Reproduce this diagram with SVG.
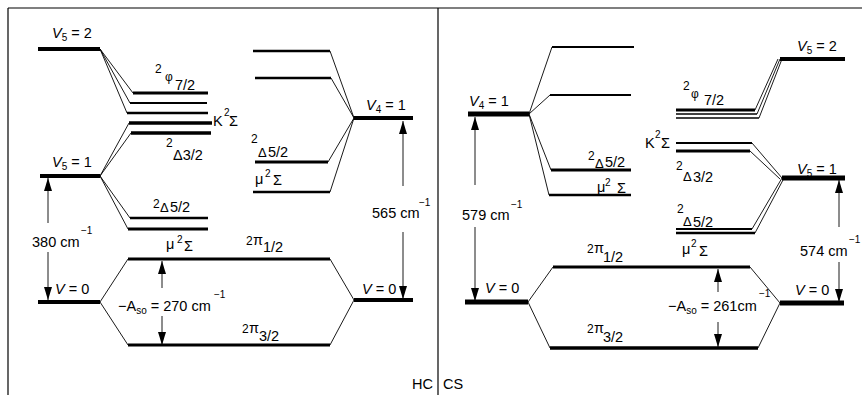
<svg xmlns="http://www.w3.org/2000/svg" width="862" height="395" viewBox="0 0 862 395">
<style>
text{font-family:"Liberation Sans",Arial,sans-serif;font-size:14.5px;fill:#000}
.sm{font-size:10px}
.md{font-size:12px}
.dl{font-size:13px}
.i{font-style:italic}
.lv{stroke:#000;fill:none;stroke-linecap:butt}
.c{stroke:#000;stroke-width:0.9;fill:none}
.a{stroke:#000;stroke-width:0.9;fill:none;marker-end:url(#ah)}
.f{stroke:#000;stroke-width:1.2;fill:none}
</style>
<defs>
<marker id="ah" markerUnits="userSpaceOnUse" markerWidth="13" markerHeight="8" refX="13" refY="4" orient="auto">
<path d="M0,0 L13,4 L0,8 z" fill="#000"/>
</marker>
</defs>
<g id="frame">
<line class="f" x1="8" y1="8" x2="862" y2="8"/>
<line class="f" x1="8" y1="8" x2="8" y2="395"/>
<line class="f" x1="438" y1="8" x2="438" y2="395"/>
<text x="412" y="389">HC</text>
<text x="443" y="389">CS</text>
</g>
<g id="connectors">
<path class="c" d="M100,49L133,93M100,49L130,103M100,49L127,113"/>
<path class="c" d="M100,176L129,123M100,176L131,133M100,176L130,218M100,176L128,229"/>
<path class="c" d="M100,302L128,259M100,302L128,345M330,259L354,300M330,345L354,300"/>
<path class="c" d="M354,118L330,51M354,118L331,78M354,118L328,162M354,118L330,192"/>
<path class="c" d="M529,114L552,47M529,114L550,95M529,114L551,170M529,114L549,195"/>
<path class="c" d="M528,302L553,267M528,302L550,348M750,267L780,303M758,348L780,303"/>
<path class="c" d="M755,110L778,59M757,114L780,59M759,118L782,59"/>
<path class="c" d="M752,143L782,178M750,151L780,179M752,229L782,178M755,233L783,180"/>
<line class="a" x1="48" y1="223" x2="48" y2="178"/>
<line class="a" x1="48" y1="252" x2="48" y2="300"/>
<line class="a" x1="162" y1="288" x2="162" y2="261"/>
<line class="a" x1="162" y1="316" x2="162" y2="345"/>
<line class="a" x1="403" y1="186" x2="403" y2="121"/>
<line class="a" x1="403" y1="232" x2="403" y2="299"/>
<line class="a" x1="475" y1="185" x2="475" y2="117"/>
<line class="a" x1="475" y1="227" x2="475" y2="301"/>
<line class="a" x1="718" y1="292" x2="718" y2="269"/>
<line class="a" x1="718" y1="322" x2="718" y2="347"/>
<line class="a" x1="839" y1="227" x2="839" y2="180"/>
<line class="a" x1="839" y1="262" x2="839" y2="302"/>
</g>
<g id="hc-v5-2">
<line class="lv" x1="38" y1="49" x2="100" y2="49" stroke-width="4"/>
<text x="52" y="38"><tspan class="i">V</tspan><tspan class="sm" dy="3">5</tspan><tspan dy="-3"> = 2</tspan></text>
</g>
<g id="hc-upper-cluster">
<line class="lv" x1="133" y1="93" x2="208" y2="93" stroke-width="3"/>
<line class="lv" x1="130" y1="103" x2="207" y2="103" stroke-width="2"/>
<line class="lv" x1="127" y1="113" x2="208" y2="113" stroke-width="2.5"/>
<line class="lv" x1="129" y1="123" x2="212" y2="123" stroke-width="3.5"/>
<line class="lv" x1="131" y1="133" x2="211" y2="133" stroke-width="3.5"/>
<text x="155" y="73" class="md">2</text>
<text x="165" y="81" class="md">φ</text>
<text x="175" y="90">7/2</text>
<text x="213" y="126">K</text>
<text x="224" y="116" class="sm">2</text>
<text x="229" y="126">Σ</text>
<text x="166" y="147" class="md">2</text>
<text x="173" y="160">Δ3/2</text>
</g>
<g id="hc-v5-1">
<line class="lv" x1="40" y1="176" x2="100" y2="176" stroke-width="4"/>
<text x="52" y="167"><tspan class="i">V</tspan><tspan class="sm" dy="3">5</tspan><tspan dy="-3"> = 1</tspan></text>
</g>
<g id="hc-lower-cluster">
<line class="lv" x1="130" y1="218" x2="208" y2="218" stroke-width="2.5"/>
<line class="lv" x1="128" y1="229" x2="208" y2="229" stroke-width="3"/>
<text x="153" y="208" class="md">2</text>
<text x="160" y="212" class="dl">Δ</text>
<text x="170" y="212">5/2</text>
<text x="166" y="249">μ</text>
<text x="177" y="243" class="sm">2</text>
<text x="184" y="251">Σ</text>
</g>
<g id="hc-v0">
<line class="lv" x1="38" y1="302" x2="100" y2="302" stroke-width="4"/>
<text x="55" y="294"><tspan class="i">V</tspan> = 0</text>
<text x="32" y="247">380 cm</text>
<text x="81" y="234" class="sm">−1</text>
</g>
<g id="hc-pi">
<line class="lv" x1="128" y1="259" x2="330" y2="259" stroke-width="3"/>
<line class="lv" x1="128" y1="345" x2="330" y2="345" stroke-width="3"/>
<text x="246" y="245" class="md">2</text>
<text x="253" y="245">π</text>
<text x="263" y="252">1/2</text>
<text x="242" y="333" class="md">2</text>
<text x="249" y="333">π</text>
<text x="259" y="341">3/2</text>
<text x="118" y="311">−A<tspan class="sm" dy="3">so</tspan><tspan dy="-3"> = 270 cm</tspan></text>
<text x="214" y="298" class="sm">−1</text>
</g>
<g id="hc-v4-cluster">
<line class="lv" x1="253" y1="51" x2="330" y2="51" stroke-width="2.5"/>
<line class="lv" x1="255" y1="78" x2="331" y2="78" stroke-width="2.5"/>
<line class="lv" x1="255" y1="162" x2="328" y2="162" stroke-width="3"/>
<line class="lv" x1="253" y1="192" x2="330" y2="192" stroke-width="2.5"/>
<text x="251" y="143" class="md">2</text>
<text x="258" y="157" class="dl">Δ</text>
<text x="268" y="157">5/2</text>
<text x="255" y="184">μ</text>
<text x="265" y="177" class="sm">2</text>
<text x="273" y="185">Σ</text>
</g>
<g id="hc-v4-1">
<line class="lv" x1="354" y1="118" x2="413" y2="118" stroke-width="4"/>
<text x="366" y="110"><tspan class="i">V</tspan><tspan class="sm" dy="3">4</tspan><tspan dy="-3"> = 1</tspan></text>
<text x="372" y="218">565 cm</text>
<text x="419" y="206" class="sm">−1</text>
</g>
<g id="hc-v0-right">
<line class="lv" x1="354" y1="300" x2="413" y2="300" stroke-width="4"/>
<text x="362" y="294"><tspan class="i">V</tspan> = 0</text>
</g>
<g id="cs-v4-1">
<line class="lv" x1="468" y1="114" x2="529" y2="114" stroke-width="5"/>
<text x="469" y="106"><tspan class="i">V</tspan><tspan class="sm" dy="3">4</tspan><tspan dy="-3"> = 1</tspan></text>
<text x="462" y="220">579 cm</text>
<text x="511" y="208" class="sm">−1</text>
</g>
<g id="cs-v4-cluster">
<line class="lv" x1="552" y1="47" x2="634" y2="47" stroke-width="2"/>
<line class="lv" x1="550" y1="95" x2="631" y2="95" stroke-width="2"/>
<line class="lv" x1="551" y1="170" x2="631" y2="170" stroke-width="3"/>
<line class="lv" x1="549" y1="195" x2="631" y2="195" stroke-width="2.5"/>
<text x="588" y="160" class="md">2</text>
<text x="595" y="168" class="dl">Δ</text>
<text x="605" y="167">5/2</text>
<text x="597" y="192">μ</text>
<text x="605" y="186" class="sm">2</text>
<text x="617" y="193">Σ</text>
</g>
<g id="cs-v0-left">
<line class="lv" x1="465" y1="302" x2="528" y2="302" stroke-width="5"/>
<text x="485" y="293"><tspan class="i">V</tspan> = 0</text>
</g>
<g id="cs-pi">
<line class="lv" x1="553" y1="267" x2="750" y2="267" stroke-width="3"/>
<line class="lv" x1="550" y1="348" x2="758" y2="348" stroke-width="3.5"/>
<text x="587" y="253" class="md">2</text>
<text x="594" y="253">π</text>
<text x="603" y="262">1/2</text>
<text x="587" y="333" class="md">2</text>
<text x="594" y="333">π</text>
<text x="603" y="342">3/2</text>
<text x="668" y="311">−A<tspan class="sm" dy="3">so</tspan><tspan dy="-3"> = 261cm</tspan></text>
<text x="759" y="297" class="sm">−1</text>
</g>
<g id="cs-v0-right">
<line class="lv" x1="780" y1="303" x2="844" y2="303" stroke-width="5"/>
<text x="795" y="295"><tspan class="i">V</tspan> = 0</text>
<text x="800" y="256">574 cm</text>
<text x="849" y="243" class="sm">−1</text>
</g>
<g id="cs-v5-1">
<line class="lv" x1="782" y1="178" x2="845" y2="178" stroke-width="5"/>
<text x="797" y="174"><tspan class="i">V</tspan><tspan class="sm" dy="3">5</tspan><tspan dy="-3"> = 1</tspan></text>
</g>
<g id="cs-v5-2">
<line class="lv" x1="780" y1="59" x2="845" y2="59" stroke-width="4"/>
<text x="797" y="51"><tspan class="i">V</tspan><tspan class="sm" dy="3">5</tspan><tspan dy="-3"> = 2</tspan></text>
</g>
<g id="cs-cluster">
<line class="lv" x1="676" y1="110" x2="755" y2="110" stroke-width="3"/>
<line class="lv" x1="676" y1="114" x2="757" y2="114" stroke-width="1.5"/>
<line class="lv" x1="676" y1="118" x2="759" y2="118" stroke-width="1.5"/>
<line class="lv" x1="676" y1="143" x2="752" y2="143" stroke-width="2"/>
<line class="lv" x1="676" y1="151" x2="750" y2="151" stroke-width="3"/>
<line class="lv" x1="676" y1="229" x2="752" y2="229" stroke-width="2"/>
<line class="lv" x1="676" y1="233" x2="755" y2="233" stroke-width="2.5"/>
<text x="683" y="90" class="md">2</text>
<text x="691" y="98" class="md">φ</text>
<text x="704" y="105">7/2</text>
<text x="645" y="148">K</text>
<text x="655" y="138" class="sm">2</text>
<text x="661" y="148">Σ</text>
<text x="676" y="170" class="md">2</text>
<text x="683" y="181" class="dl">Δ</text>
<text x="693" y="182">3/2</text>
<text x="677" y="213" class="md">2</text>
<text x="683" y="226" class="dl">Δ</text>
<text x="693" y="227">5/2</text>
<text x="682" y="254">μ</text>
<text x="691" y="247" class="sm">2</text>
<text x="699" y="256">Σ</text>
</g>
</svg>
